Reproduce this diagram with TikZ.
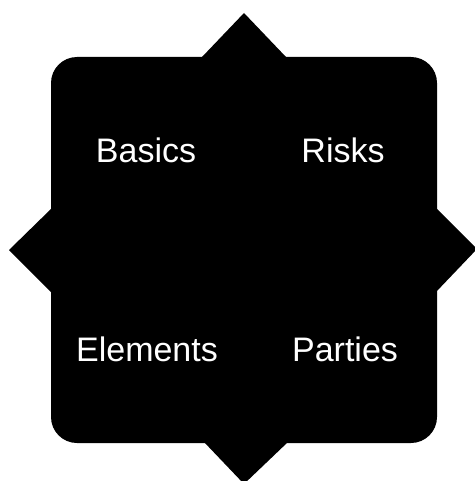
\documentclass[tikz,border=0pt]{standalone}
\usepackage{fontspec}
\setmainfont{Liberation Sans}
\begin{document}
\begin{tikzpicture}[x=1pt,y=-1pt,
  topic/.style={text=white,font=\fontsize{34}{40}\selectfont,anchor=base,inner sep=0pt}]
  \useasboundingbox (0,0) rectangle (474,481);
  % Body: rounded square
  \fill[rounded corners=26pt] (51,57) rectangle (437,443);
  % Four points, one on each side
  \fill (202,57) -- (244,13) -- (286,57) -- cycle;
  \fill (204,442) -- (244,484) -- (288,442) -- cycle;
  \fill (52,208) -- (9,250) -- (52,293) -- cycle;
  \fill (436,208) -- (477,249) -- (436,292) -- cycle;

  % Topics
  \node[topic] (basics) at (146,163) {Basics};
  \node[topic] (risks) at (343,163) {Risks};
  \node[topic] (elements) at (147,361) {Elements};
  \node[topic] (parties) at (345,361) {Parties};
\end{tikzpicture}
\end{document}
